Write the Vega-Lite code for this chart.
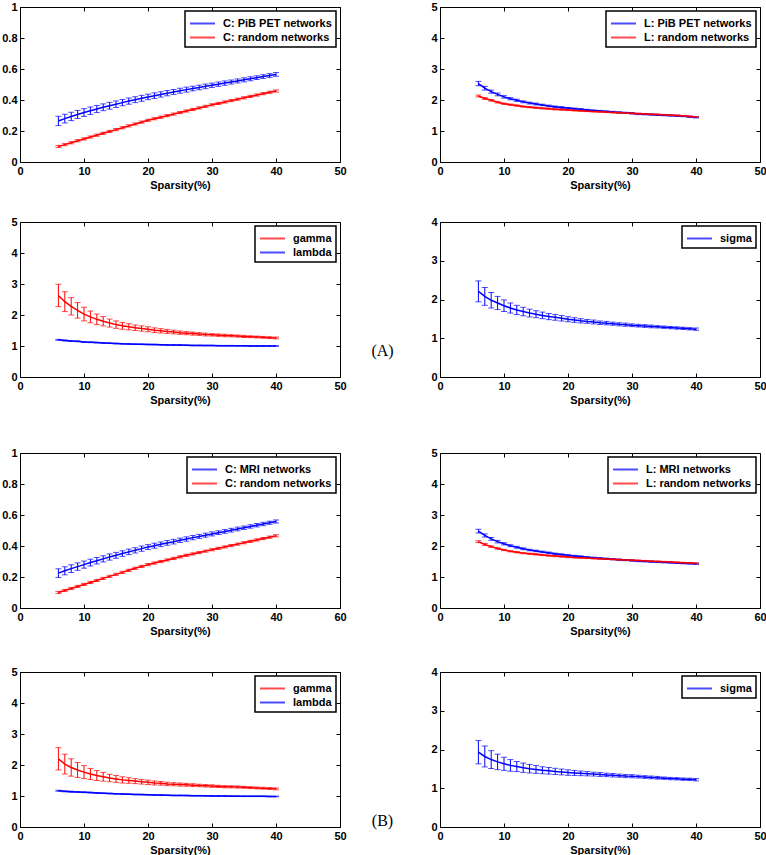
{
"$schema":"https://vega.github.io/schema/vega-lite/v6.json",
"background":"white",
"padding":{"left":1,"top":0,"right":0,"bottom":0},
"datasets":{
"p1":[
{"x":6,"s":"B","m":0.265,"e":0.03},{"x":7,"s":"B","m":0.28,"e":0.028},{"x":8,"s":"B","m":0.294,"e":0.027},{"x":9,"s":"B","m":0.307,"e":0.026},{"x":10,"s":"B","m":0.319,"e":0.025},{"x":11,"s":"B","m":0.331,"e":0.024},{"x":12,"s":"B","m":0.342,"e":0.023},{"x":13,"s":"B","m":0.353,"e":0.022},{"x":14,"s":"B","m":0.363,"e":0.022},{"x":15,"s":"B","m":0.373,"e":0.021},{"x":16,"s":"B","m":0.383,"e":0.02},{"x":17,"s":"B","m":0.393,"e":0.02},{"x":18,"s":"B","m":0.402,"e":0.019},{"x":19,"s":"B","m":0.411,"e":0.019},{"x":20,"s":"B","m":0.42,"e":0.018},{"x":21,"s":"B","m":0.428,"e":0.018},{"x":22,"s":"B","m":0.436,"e":0.017},{"x":23,"s":"B","m":0.444,"e":0.017},{"x":24,"s":"B","m":0.452,"e":0.016},{"x":25,"s":"B","m":0.46,"e":0.016},{"x":26,"s":"B","m":0.467,"e":0.016},{"x":27,"s":"B","m":0.474,"e":0.015},{"x":28,"s":"B","m":0.481,"e":0.015},{"x":29,"s":"B","m":0.488,"e":0.015},{"x":30,"s":"B","m":0.495,"e":0.014},{"x":31,"s":"B","m":0.502,"e":0.014},{"x":32,"s":"B","m":0.509,"e":0.014},{"x":33,"s":"B","m":0.516,"e":0.013},{"x":34,"s":"B","m":0.523,"e":0.013},{"x":35,"s":"B","m":0.53,"e":0.013},{"x":36,"s":"B","m":0.537,"e":0.013},{"x":37,"s":"B","m":0.544,"e":0.012},{"x":38,"s":"B","m":0.551,"e":0.012},{"x":39,"s":"B","m":0.558,"e":0.012},{"x":40,"s":"B","m":0.565,"e":0.012},
{"x":6,"s":"R","m":0.1,"e":0.007},{"x":7,"s":"R","m":0.112,"e":0.007},{"x":8,"s":"R","m":0.124,"e":0.007},{"x":9,"s":"R","m":0.137,"e":0.007},{"x":10,"s":"R","m":0.149,"e":0.007},{"x":11,"s":"R","m":0.161,"e":0.007},{"x":12,"s":"R","m":0.173,"e":0.007},{"x":13,"s":"R","m":0.185,"e":0.007},{"x":14,"s":"R","m":0.197,"e":0.007},{"x":15,"s":"R","m":0.209,"e":0.007},{"x":16,"s":"R","m":0.221,"e":0.007},{"x":17,"s":"R","m":0.233,"e":0.007},{"x":18,"s":"R","m":0.245,"e":0.007},{"x":19,"s":"R","m":0.257,"e":0.007},{"x":20,"s":"R","m":0.269,"e":0.007},{"x":21,"s":"R","m":0.279,"e":0.007},{"x":22,"s":"R","m":0.289,"e":0.007},{"x":23,"s":"R","m":0.299,"e":0.007},{"x":24,"s":"R","m":0.309,"e":0.007},{"x":25,"s":"R","m":0.319,"e":0.007},{"x":26,"s":"R","m":0.329,"e":0.007},{"x":27,"s":"R","m":0.339,"e":0.007},{"x":28,"s":"R","m":0.349,"e":0.007},{"x":29,"s":"R","m":0.359,"e":0.007},{"x":30,"s":"R","m":0.369,"e":0.007},{"x":31,"s":"R","m":0.378,"e":0.007},{"x":32,"s":"R","m":0.387,"e":0.007},{"x":33,"s":"R","m":0.396,"e":0.007},{"x":34,"s":"R","m":0.405,"e":0.007},{"x":35,"s":"R","m":0.414,"e":0.007},{"x":36,"s":"R","m":0.423,"e":0.007},{"x":37,"s":"R","m":0.432,"e":0.007},{"x":38,"s":"R","m":0.441,"e":0.007},{"x":39,"s":"R","m":0.45,"e":0.007},{"x":40,"s":"R","m":0.458,"e":0.007}
],
"p2":[
{"x":6,"s":"B","m":2.53,"e":0.07},{"x":7,"s":"B","m":2.38,"e":0.06},{"x":8,"s":"B","m":2.27,"e":0.05},{"x":9,"s":"B","m":2.18,"e":0.045},{"x":10,"s":"B","m":2.1,"e":0.04},{"x":11,"s":"B","m":2.04,"e":0.035},{"x":12,"s":"B","m":1.99,"e":0.035},{"x":13,"s":"B","m":1.94,"e":0.03},{"x":14,"s":"B","m":1.9,"e":0.03},{"x":15,"s":"B","m":1.87,"e":0.03},{"x":16,"s":"B","m":1.84,"e":0.025},{"x":17,"s":"B","m":1.81,"e":0.025},{"x":18,"s":"B","m":1.78,"e":0.025},{"x":19,"s":"B","m":1.76,"e":0.025},{"x":20,"s":"B","m":1.74,"e":0.02},{"x":21,"s":"B","m":1.72,"e":0.02},{"x":22,"s":"B","m":1.7,"e":0.02},{"x":23,"s":"B","m":1.68,"e":0.02},{"x":24,"s":"B","m":1.66,"e":0.02},{"x":25,"s":"B","m":1.645,"e":0.02},{"x":26,"s":"B","m":1.63,"e":0.02},{"x":27,"s":"B","m":1.615,"e":0.02},{"x":28,"s":"B","m":1.6,"e":0.02},{"x":29,"s":"B","m":1.585,"e":0.02},{"x":30,"s":"B","m":1.57,"e":0.02},{"x":31,"s":"B","m":1.55,"e":0.02},{"x":32,"s":"B","m":1.54,"e":0.02},{"x":33,"s":"B","m":1.53,"e":0.02},{"x":34,"s":"B","m":1.52,"e":0.02},{"x":35,"s":"B","m":1.51,"e":0.02},{"x":36,"s":"B","m":1.5,"e":0.02},{"x":37,"s":"B","m":1.49,"e":0.02},{"x":38,"s":"B","m":1.48,"e":0.02},{"x":39,"s":"B","m":1.46,"e":0.02},{"x":40,"s":"B","m":1.44,"e":0.02},
{"x":6,"s":"R","m":2.13,"e":0.03},{"x":7,"s":"R","m":2.05,"e":0.03},{"x":8,"s":"R","m":1.99,"e":0.025},{"x":9,"s":"R","m":1.93,"e":0.025},{"x":10,"s":"R","m":1.88,"e":0.02},{"x":11,"s":"R","m":1.85,"e":0.02},{"x":12,"s":"R","m":1.82,"e":0.02},{"x":13,"s":"R","m":1.79,"e":0.02},{"x":14,"s":"R","m":1.77,"e":0.02},{"x":15,"s":"R","m":1.75,"e":0.02},{"x":16,"s":"R","m":1.73,"e":0.02},{"x":17,"s":"R","m":1.72,"e":0.02},{"x":18,"s":"R","m":1.7,"e":0.02},{"x":19,"s":"R","m":1.69,"e":0.02},{"x":20,"s":"R","m":1.68,"e":0.02},{"x":21,"s":"R","m":1.665,"e":0.015},{"x":22,"s":"R","m":1.65,"e":0.015},{"x":23,"s":"R","m":1.64,"e":0.015},{"x":24,"s":"R","m":1.63,"e":0.015},{"x":25,"s":"R","m":1.62,"e":0.015},{"x":26,"s":"R","m":1.61,"e":0.015},{"x":27,"s":"R","m":1.6,"e":0.015},{"x":28,"s":"R","m":1.59,"e":0.015},{"x":29,"s":"R","m":1.58,"e":0.015},{"x":30,"s":"R","m":1.57,"e":0.015},{"x":31,"s":"R","m":1.56,"e":0.015},{"x":32,"s":"R","m":1.55,"e":0.015},{"x":33,"s":"R","m":1.54,"e":0.015},{"x":34,"s":"R","m":1.53,"e":0.015},{"x":35,"s":"R","m":1.52,"e":0.015},{"x":36,"s":"R","m":1.51,"e":0.015},{"x":37,"s":"R","m":1.5,"e":0.015},{"x":38,"s":"R","m":1.49,"e":0.015},{"x":39,"s":"R","m":1.47,"e":0.015},{"x":40,"s":"R","m":1.45,"e":0.015}
],
"p3":[
{"x":6,"s":"G","m":2.63,"e":0.36},{"x":7,"s":"G","m":2.43,"e":0.32},{"x":8,"s":"G","m":2.28,"e":0.28},{"x":9,"s":"G","m":2.15,"e":0.25},{"x":10,"s":"G","m":2.03,"e":0.22},{"x":11,"s":"G","m":1.94,"e":0.19},{"x":12,"s":"G","m":1.86,"e":0.17},{"x":13,"s":"G","m":1.8,"e":0.15},{"x":14,"s":"G","m":1.74,"e":0.13},{"x":15,"s":"G","m":1.69,"e":0.12},{"x":16,"s":"G","m":1.65,"e":0.11},{"x":17,"s":"G","m":1.62,"e":0.1},{"x":18,"s":"G","m":1.59,"e":0.09},{"x":19,"s":"G","m":1.565,"e":0.085},{"x":20,"s":"G","m":1.54,"e":0.08},{"x":21,"s":"G","m":1.51,"e":0.075},{"x":22,"s":"G","m":1.49,"e":0.07},{"x":23,"s":"G","m":1.47,"e":0.065},{"x":24,"s":"G","m":1.45,"e":0.06},{"x":25,"s":"G","m":1.43,"e":0.055},{"x":26,"s":"G","m":1.415,"e":0.05},{"x":27,"s":"G","m":1.4,"e":0.05},{"x":28,"s":"G","m":1.385,"e":0.045},{"x":29,"s":"G","m":1.37,"e":0.045},{"x":30,"s":"G","m":1.36,"e":0.04},{"x":31,"s":"G","m":1.35,"e":0.04},{"x":32,"s":"G","m":1.34,"e":0.04},{"x":33,"s":"G","m":1.33,"e":0.035},{"x":34,"s":"G","m":1.32,"e":0.035},{"x":35,"s":"G","m":1.31,"e":0.035},{"x":36,"s":"G","m":1.3,"e":0.03},{"x":37,"s":"G","m":1.29,"e":0.03},{"x":38,"s":"G","m":1.28,"e":0.03},{"x":39,"s":"G","m":1.27,"e":0.03},{"x":40,"s":"G","m":1.26,"e":0.03},
{"x":6,"s":"L","m":1.2,"e":0.015},{"x":7,"s":"L","m":1.18,"e":0.015},{"x":8,"s":"L","m":1.16,"e":0.015},{"x":9,"s":"L","m":1.15,"e":0.012},{"x":10,"s":"L","m":1.13,"e":0.012},{"x":11,"s":"L","m":1.12,"e":0.012},{"x":12,"s":"L","m":1.11,"e":0.01},{"x":13,"s":"L","m":1.1,"e":0.01},{"x":14,"s":"L","m":1.09,"e":0.01},{"x":15,"s":"L","m":1.08,"e":0.01},{"x":16,"s":"L","m":1.07,"e":0.01},{"x":17,"s":"L","m":1.065,"e":0.01},{"x":18,"s":"L","m":1.06,"e":0.01},{"x":19,"s":"L","m":1.055,"e":0.01},{"x":20,"s":"L","m":1.05,"e":0.01},{"x":21,"s":"L","m":1.045,"e":0.01},{"x":22,"s":"L","m":1.04,"e":0.01},{"x":23,"s":"L","m":1.035,"e":0.01},{"x":24,"s":"L","m":1.03,"e":0.01},{"x":25,"s":"L","m":1.03,"e":0.01},{"x":26,"s":"L","m":1.025,"e":0.01},{"x":27,"s":"L","m":1.02,"e":0.01},{"x":28,"s":"L","m":1.02,"e":0.01},{"x":29,"s":"L","m":1.015,"e":0.01},{"x":30,"s":"L","m":1.015,"e":0.01},{"x":31,"s":"L","m":1.01,"e":0.01},{"x":32,"s":"L","m":1.01,"e":0.01},{"x":33,"s":"L","m":1.01,"e":0.01},{"x":34,"s":"L","m":1.005,"e":0.01},{"x":35,"s":"L","m":1.005,"e":0.01},{"x":36,"s":"L","m":1.0,"e":0.01},{"x":37,"s":"L","m":1.0,"e":0.01},{"x":38,"s":"L","m":1.0,"e":0.01},{"x":39,"s":"L","m":1.0,"e":0.01},{"x":40,"s":"L","m":1.0,"e":0.01}
],
"p4":[
{"x":6,"s":"S","m":2.21,"e":0.27},{"x":7,"s":"S","m":2.08,"e":0.23},{"x":8,"s":"S","m":1.98,"e":0.2},{"x":9,"s":"S","m":1.91,"e":0.17},{"x":10,"s":"S","m":1.84,"e":0.15},{"x":11,"s":"S","m":1.78,"e":0.13},{"x":12,"s":"S","m":1.73,"e":0.12},{"x":13,"s":"S","m":1.69,"e":0.11},{"x":14,"s":"S","m":1.65,"e":0.1},{"x":15,"s":"S","m":1.62,"e":0.09},{"x":16,"s":"S","m":1.59,"e":0.085},{"x":17,"s":"S","m":1.56,"e":0.08},{"x":18,"s":"S","m":1.54,"e":0.075},{"x":19,"s":"S","m":1.515,"e":0.07},{"x":20,"s":"S","m":1.49,"e":0.065},{"x":21,"s":"S","m":1.47,"e":0.06},{"x":22,"s":"S","m":1.45,"e":0.055},{"x":23,"s":"S","m":1.435,"e":0.05},{"x":24,"s":"S","m":1.42,"e":0.05},{"x":25,"s":"S","m":1.4,"e":0.045},{"x":26,"s":"S","m":1.39,"e":0.045},{"x":27,"s":"S","m":1.375,"e":0.04},{"x":28,"s":"S","m":1.36,"e":0.04},{"x":29,"s":"S","m":1.35,"e":0.04},{"x":30,"s":"S","m":1.335,"e":0.035},{"x":31,"s":"S","m":1.325,"e":0.035},{"x":32,"s":"S","m":1.315,"e":0.035},{"x":33,"s":"S","m":1.305,"e":0.035},{"x":34,"s":"S","m":1.295,"e":0.03},{"x":35,"s":"S","m":1.285,"e":0.03},{"x":36,"s":"S","m":1.275,"e":0.03},{"x":37,"s":"S","m":1.265,"e":0.03},{"x":38,"s":"S","m":1.255,"e":0.03},{"x":39,"s":"S","m":1.245,"e":0.03},{"x":40,"s":"S","m":1.235,"e":0.03}
],
"p5":[
{"x":6,"s":"B","m":0.225,"e":0.028},{"x":7,"s":"B","m":0.24,"e":0.026},{"x":8,"s":"B","m":0.254,"e":0.025},{"x":9,"s":"B","m":0.267,"e":0.024},{"x":10,"s":"B","m":0.28,"e":0.023},{"x":11,"s":"B","m":0.293,"e":0.022},{"x":12,"s":"B","m":0.305,"e":0.021},{"x":13,"s":"B","m":0.317,"e":0.02},{"x":14,"s":"B","m":0.329,"e":0.02},{"x":15,"s":"B","m":0.34,"e":0.019},{"x":16,"s":"B","m":0.351,"e":0.018},{"x":17,"s":"B","m":0.362,"e":0.018},{"x":18,"s":"B","m":0.372,"e":0.017},{"x":19,"s":"B","m":0.383,"e":0.017},{"x":20,"s":"B","m":0.393,"e":0.016},{"x":21,"s":"B","m":0.402,"e":0.016},{"x":22,"s":"B","m":0.411,"e":0.015},{"x":23,"s":"B","m":0.42,"e":0.015},{"x":24,"s":"B","m":0.428,"e":0.015},{"x":25,"s":"B","m":0.437,"e":0.014},{"x":26,"s":"B","m":0.445,"e":0.014},{"x":27,"s":"B","m":0.454,"e":0.014},{"x":28,"s":"B","m":0.462,"e":0.013},{"x":29,"s":"B","m":0.47,"e":0.013},{"x":30,"s":"B","m":0.478,"e":0.013},{"x":31,"s":"B","m":0.486,"e":0.012},{"x":32,"s":"B","m":0.494,"e":0.012},{"x":33,"s":"B","m":0.502,"e":0.012},{"x":34,"s":"B","m":0.51,"e":0.012},{"x":35,"s":"B","m":0.518,"e":0.011},{"x":36,"s":"B","m":0.526,"e":0.011},{"x":37,"s":"B","m":0.534,"e":0.011},{"x":38,"s":"B","m":0.542,"e":0.011},{"x":39,"s":"B","m":0.55,"e":0.01},{"x":40,"s":"B","m":0.558,"e":0.01},
{"x":6,"s":"R","m":0.1,"e":0.007},{"x":7,"s":"R","m":0.113,"e":0.007},{"x":8,"s":"R","m":0.126,"e":0.007},{"x":9,"s":"R","m":0.139,"e":0.007},{"x":10,"s":"R","m":0.152,"e":0.007},{"x":11,"s":"R","m":0.165,"e":0.007},{"x":12,"s":"R","m":0.178,"e":0.007},{"x":13,"s":"R","m":0.191,"e":0.007},{"x":14,"s":"R","m":0.204,"e":0.007},{"x":15,"s":"R","m":0.217,"e":0.007},{"x":16,"s":"R","m":0.23,"e":0.007},{"x":17,"s":"R","m":0.243,"e":0.007},{"x":18,"s":"R","m":0.256,"e":0.007},{"x":19,"s":"R","m":0.268,"e":0.007},{"x":20,"s":"R","m":0.28,"e":0.007},{"x":21,"s":"R","m":0.29,"e":0.007},{"x":22,"s":"R","m":0.3,"e":0.007},{"x":23,"s":"R","m":0.31,"e":0.007},{"x":24,"s":"R","m":0.32,"e":0.007},{"x":25,"s":"R","m":0.33,"e":0.007},{"x":26,"s":"R","m":0.34,"e":0.007},{"x":27,"s":"R","m":0.349,"e":0.007},{"x":28,"s":"R","m":0.358,"e":0.007},{"x":29,"s":"R","m":0.367,"e":0.007},{"x":30,"s":"R","m":0.376,"e":0.007},{"x":31,"s":"R","m":0.385,"e":0.007},{"x":32,"s":"R","m":0.394,"e":0.007},{"x":33,"s":"R","m":0.403,"e":0.007},{"x":34,"s":"R","m":0.412,"e":0.007},{"x":35,"s":"R","m":0.421,"e":0.007},{"x":36,"s":"R","m":0.43,"e":0.007},{"x":37,"s":"R","m":0.439,"e":0.007},{"x":38,"s":"R","m":0.448,"e":0.007},{"x":39,"s":"R","m":0.457,"e":0.007},{"x":40,"s":"R","m":0.466,"e":0.007}
],
"p6":[
{"x":6,"s":"B","m":2.48,"e":0.06},{"x":7,"s":"B","m":2.34,"e":0.05},{"x":8,"s":"B","m":2.23,"e":0.045},{"x":9,"s":"B","m":2.14,"e":0.04},{"x":10,"s":"B","m":2.07,"e":0.035},{"x":11,"s":"B","m":2.01,"e":0.03},{"x":12,"s":"B","m":1.96,"e":0.03},{"x":13,"s":"B","m":1.91,"e":0.03},{"x":14,"s":"B","m":1.87,"e":0.025},{"x":15,"s":"B","m":1.84,"e":0.025},{"x":16,"s":"B","m":1.81,"e":0.025},{"x":17,"s":"B","m":1.78,"e":0.025},{"x":18,"s":"B","m":1.75,"e":0.02},{"x":19,"s":"B","m":1.725,"e":0.02},{"x":20,"s":"B","m":1.7,"e":0.02},{"x":21,"s":"B","m":1.68,"e":0.02},{"x":22,"s":"B","m":1.66,"e":0.02},{"x":23,"s":"B","m":1.64,"e":0.02},{"x":24,"s":"B","m":1.62,"e":0.02},{"x":25,"s":"B","m":1.605,"e":0.02},{"x":26,"s":"B","m":1.59,"e":0.02},{"x":27,"s":"B","m":1.575,"e":0.02},{"x":28,"s":"B","m":1.56,"e":0.02},{"x":29,"s":"B","m":1.545,"e":0.02},{"x":30,"s":"B","m":1.53,"e":0.02},{"x":31,"s":"B","m":1.515,"e":0.02},{"x":32,"s":"B","m":1.505,"e":0.02},{"x":33,"s":"B","m":1.495,"e":0.02},{"x":34,"s":"B","m":1.485,"e":0.02},{"x":35,"s":"B","m":1.475,"e":0.02},{"x":36,"s":"B","m":1.465,"e":0.02},{"x":37,"s":"B","m":1.455,"e":0.02},{"x":38,"s":"B","m":1.445,"e":0.02},{"x":39,"s":"B","m":1.435,"e":0.02},{"x":40,"s":"B","m":1.425,"e":0.02},
{"x":6,"s":"R","m":2.14,"e":0.03},{"x":7,"s":"R","m":2.05,"e":0.03},{"x":8,"s":"R","m":1.98,"e":0.025},{"x":9,"s":"R","m":1.92,"e":0.025},{"x":10,"s":"R","m":1.87,"e":0.02},{"x":11,"s":"R","m":1.83,"e":0.02},{"x":12,"s":"R","m":1.8,"e":0.02},{"x":13,"s":"R","m":1.77,"e":0.02},{"x":14,"s":"R","m":1.75,"e":0.02},{"x":15,"s":"R","m":1.73,"e":0.02},{"x":16,"s":"R","m":1.71,"e":0.02},{"x":17,"s":"R","m":1.69,"e":0.02},{"x":18,"s":"R","m":1.675,"e":0.02},{"x":19,"s":"R","m":1.66,"e":0.02},{"x":20,"s":"R","m":1.645,"e":0.02},{"x":21,"s":"R","m":1.63,"e":0.015},{"x":22,"s":"R","m":1.62,"e":0.015},{"x":23,"s":"R","m":1.61,"e":0.015},{"x":24,"s":"R","m":1.6,"e":0.015},{"x":25,"s":"R","m":1.59,"e":0.015},{"x":26,"s":"R","m":1.58,"e":0.015},{"x":27,"s":"R","m":1.57,"e":0.015},{"x":28,"s":"R","m":1.56,"e":0.015},{"x":29,"s":"R","m":1.55,"e":0.015},{"x":30,"s":"R","m":1.54,"e":0.015},{"x":31,"s":"R","m":1.53,"e":0.015},{"x":32,"s":"R","m":1.52,"e":0.015},{"x":33,"s":"R","m":1.51,"e":0.015},{"x":34,"s":"R","m":1.5,"e":0.015},{"x":35,"s":"R","m":1.49,"e":0.015},{"x":36,"s":"R","m":1.48,"e":0.015},{"x":37,"s":"R","m":1.47,"e":0.015},{"x":38,"s":"R","m":1.46,"e":0.015},{"x":39,"s":"R","m":1.45,"e":0.015},{"x":40,"s":"R","m":1.44,"e":0.015}
],
"p7":[
{"x":6,"s":"G","m":2.2,"e":0.36},{"x":7,"s":"G","m":2.03,"e":0.32},{"x":8,"s":"G","m":1.92,"e":0.28},{"x":9,"s":"G","m":1.84,"e":0.24},{"x":10,"s":"G","m":1.77,"e":0.21},{"x":11,"s":"G","m":1.71,"e":0.18},{"x":12,"s":"G","m":1.66,"e":0.16},{"x":13,"s":"G","m":1.62,"e":0.14},{"x":14,"s":"G","m":1.58,"e":0.12},{"x":15,"s":"G","m":1.55,"e":0.11},{"x":16,"s":"G","m":1.52,"e":0.1},{"x":17,"s":"G","m":1.5,"e":0.09},{"x":18,"s":"G","m":1.48,"e":0.08},{"x":19,"s":"G","m":1.46,"e":0.075},{"x":20,"s":"G","m":1.44,"e":0.07},{"x":21,"s":"G","m":1.42,"e":0.065},{"x":22,"s":"G","m":1.41,"e":0.06},{"x":23,"s":"G","m":1.39,"e":0.055},{"x":24,"s":"G","m":1.38,"e":0.05},{"x":25,"s":"G","m":1.37,"e":0.05},{"x":26,"s":"G","m":1.36,"e":0.045},{"x":27,"s":"G","m":1.35,"e":0.045},{"x":28,"s":"G","m":1.34,"e":0.04},{"x":29,"s":"G","m":1.33,"e":0.04},{"x":30,"s":"G","m":1.32,"e":0.04},{"x":31,"s":"G","m":1.31,"e":0.035},{"x":32,"s":"G","m":1.3,"e":0.035},{"x":33,"s":"G","m":1.295,"e":0.035},{"x":34,"s":"G","m":1.29,"e":0.035},{"x":35,"s":"G","m":1.28,"e":0.03},{"x":36,"s":"G","m":1.27,"e":0.03},{"x":37,"s":"G","m":1.26,"e":0.03},{"x":38,"s":"G","m":1.25,"e":0.03},{"x":39,"s":"G","m":1.24,"e":0.03},{"x":40,"s":"G","m":1.23,"e":0.03},
{"x":6,"s":"L","m":1.17,"e":0.015},{"x":7,"s":"L","m":1.15,"e":0.015},{"x":8,"s":"L","m":1.14,"e":0.015},{"x":9,"s":"L","m":1.13,"e":0.012},{"x":10,"s":"L","m":1.12,"e":0.012},{"x":11,"s":"L","m":1.11,"e":0.012},{"x":12,"s":"L","m":1.1,"e":0.01},{"x":13,"s":"L","m":1.09,"e":0.01},{"x":14,"s":"L","m":1.08,"e":0.01},{"x":15,"s":"L","m":1.07,"e":0.01},{"x":16,"s":"L","m":1.065,"e":0.01},{"x":17,"s":"L","m":1.06,"e":0.01},{"x":18,"s":"L","m":1.05,"e":0.01},{"x":19,"s":"L","m":1.045,"e":0.01},{"x":20,"s":"L","m":1.04,"e":0.01},{"x":21,"s":"L","m":1.035,"e":0.01},{"x":22,"s":"L","m":1.03,"e":0.01},{"x":23,"s":"L","m":1.025,"e":0.01},{"x":24,"s":"L","m":1.02,"e":0.01},{"x":25,"s":"L","m":1.02,"e":0.01},{"x":26,"s":"L","m":1.015,"e":0.01},{"x":27,"s":"L","m":1.01,"e":0.01},{"x":28,"s":"L","m":1.01,"e":0.01},{"x":29,"s":"L","m":1.005,"e":0.01},{"x":30,"s":"L","m":1.0,"e":0.01},{"x":31,"s":"L","m":1.0,"e":0.01},{"x":32,"s":"L","m":1.0,"e":0.01},{"x":33,"s":"L","m":0.995,"e":0.01},{"x":34,"s":"L","m":0.995,"e":0.01},{"x":35,"s":"L","m":0.99,"e":0.01},{"x":36,"s":"L","m":0.99,"e":0.01},{"x":37,"s":"L","m":0.99,"e":0.01},{"x":38,"s":"L","m":0.99,"e":0.01},{"x":39,"s":"L","m":0.985,"e":0.01},{"x":40,"s":"L","m":0.985,"e":0.01}
],
"p8":[
{"x":6,"s":"S","m":1.93,"e":0.3},{"x":7,"s":"S","m":1.82,"e":0.27},{"x":8,"s":"S","m":1.74,"e":0.23},{"x":9,"s":"S","m":1.68,"e":0.2},{"x":10,"s":"S","m":1.63,"e":0.17},{"x":11,"s":"S","m":1.59,"e":0.15},{"x":12,"s":"S","m":1.56,"e":0.13},{"x":13,"s":"S","m":1.53,"e":0.12},{"x":14,"s":"S","m":1.505,"e":0.11},{"x":15,"s":"S","m":1.485,"e":0.1},{"x":16,"s":"S","m":1.465,"e":0.09},{"x":17,"s":"S","m":1.45,"e":0.085},{"x":18,"s":"S","m":1.435,"e":0.08},{"x":19,"s":"S","m":1.42,"e":0.075},{"x":20,"s":"S","m":1.405,"e":0.07},{"x":21,"s":"S","m":1.395,"e":0.065},{"x":22,"s":"S","m":1.385,"e":0.06},{"x":23,"s":"S","m":1.375,"e":0.055},{"x":24,"s":"S","m":1.365,"e":0.05},{"x":25,"s":"S","m":1.355,"e":0.05},{"x":26,"s":"S","m":1.345,"e":0.045},{"x":27,"s":"S","m":1.335,"e":0.045},{"x":28,"s":"S","m":1.325,"e":0.04},{"x":29,"s":"S","m":1.315,"e":0.04},{"x":30,"s":"S","m":1.31,"e":0.04},{"x":31,"s":"S","m":1.3,"e":0.035},{"x":32,"s":"S","m":1.29,"e":0.035},{"x":33,"s":"S","m":1.28,"e":0.035},{"x":34,"s":"S","m":1.27,"e":0.035},{"x":35,"s":"S","m":1.26,"e":0.03},{"x":36,"s":"S","m":1.25,"e":0.03},{"x":37,"s":"S","m":1.245,"e":0.03},{"x":38,"s":"S","m":1.235,"e":0.03},{"x":39,"s":"S","m":1.23,"e":0.03},{"x":40,"s":"S","m":1.22,"e":0.03}
]
},
"vconcat":[
{"columns":2,"spacing":{"row":60,"column":100},"bounds":"flush",
 "resolve":{"scale":{"color":"independent","x":"independent","y":"independent"},"legend":{"color":"independent"}},
 "concat":[
 {"width":320,"height":155,"data":{"name":"p1"},
  "layer":[
   {"mark":{"type":"errorbar","ticks":{"size":6},"thickness":1},
    "encoding":{"x":{"field":"x","type":"quantitative","scale":{"domain":[0,50]},"axis":{"values":[0,10,20,30,40,50],"title":"Sparsity(%)"}},
     "y":{"field":"m","type":"quantitative","scale":{"domain":[0,1]},"axis":{"values":[0,0.2,0.4,0.6,0.8,1],"format":"~g","title":null}},
     "yError":{"field":"e"},
     "color":{"field":"s","type":"nominal","scale":{"domain":["B","R"],"range":["#0000ff","#ff0000"]},"legend":{"title":null,"symbolType":"M-1,0H2.333","labelExpr":"datum.label=='B'?'C: PiB PET networks':'C: random networks'"}}}},
   {"mark":{"type":"line","strokeWidth":1.5},
    "encoding":{"x":{"field":"x","type":"quantitative","scale":{"domain":[0,50]},"axis":{"orient":"top","values":[0,10,20,30,40,50],"labels":false,"title":null}},
     "y":{"field":"m","type":"quantitative","scale":{"domain":[0,1]},"axis":{"orient":"right","values":[0,0.2,0.4,0.6,0.8,1],"labels":false,"title":null}},
     "color":{"field":"s","type":"nominal","scale":{"domain":["B","R"],"range":["#0000ff","#ff0000"]},"legend":{"title":null,"symbolType":"M-1,0H2.333","labelExpr":"datum.label=='B'?'C: PiB PET networks':'C: random networks'"}}}}
  ],
  "resolve":{"axis":{"x":"independent","y":"independent"}}},
 {"width":320,"height":155,"data":{"name":"p2"},
  "layer":[
   {"mark":{"type":"errorbar","ticks":{"size":6},"thickness":1},
    "encoding":{"x":{"field":"x","type":"quantitative","scale":{"domain":[0,50]},"axis":{"values":[0,10,20,30,40,50],"title":"Sparsity(%)"}},
     "y":{"field":"m","type":"quantitative","scale":{"domain":[0,5]},"axis":{"values":[0,1,2,3,4,5],"title":null}},
     "yError":{"field":"e"},
     "color":{"field":"s","type":"nominal","scale":{"domain":["B","R"],"range":["#0000ff","#ff0000"]},"legend":{"title":null,"symbolType":"M-1,0H2.333","labelExpr":"datum.label=='B'?'L: PiB PET networks':'L: random networks'"}}}},
   {"mark":{"type":"line","strokeWidth":1.5},
    "encoding":{"x":{"field":"x","type":"quantitative","scale":{"domain":[0,50]},"axis":{"orient":"top","values":[0,10,20,30,40,50],"labels":false,"title":null}},
     "y":{"field":"m","type":"quantitative","scale":{"domain":[0,5]},"axis":{"orient":"right","values":[0,1,2,3,4,5],"labels":false,"title":null}},
     "color":{"field":"s","type":"nominal","scale":{"domain":["B","R"],"range":["#0000ff","#ff0000"]},"legend":{"title":null,"symbolType":"M-1,0H2.333","labelExpr":"datum.label=='B'?'L: PiB PET networks':'L: random networks'"}}}}
  ],
  "resolve":{"axis":{"x":"independent","y":"independent"}}},
 {"width":320,"height":155,"data":{"name":"p3"},
  "layer":[
   {"mark":{"type":"errorbar","ticks":{"size":6},"thickness":1},
    "encoding":{"x":{"field":"x","type":"quantitative","scale":{"domain":[0,50]},"axis":{"values":[0,10,20,30,40,50],"title":"Sparsity(%)"}},
     "y":{"field":"m","type":"quantitative","scale":{"domain":[0,5]},"axis":{"values":[0,1,2,3,4,5],"title":null}},
     "yError":{"field":"e"},
     "color":{"field":"s","type":"nominal","scale":{"domain":["G","L"],"range":["#ff0000","#0000ff"]},"legend":{"title":null,"symbolType":"M-1,0H2.333","labelExpr":"datum.label=='G'?'gamma':'lambda'"}}}},
   {"mark":{"type":"line","strokeWidth":1.5},
    "encoding":{"x":{"field":"x","type":"quantitative","scale":{"domain":[0,50]},"axis":{"orient":"top","values":[0,10,20,30,40,50],"labels":false,"title":null}},
     "y":{"field":"m","type":"quantitative","scale":{"domain":[0,5]},"axis":{"orient":"right","values":[0,1,2,3,4,5],"labels":false,"title":null}},
     "color":{"field":"s","type":"nominal","scale":{"domain":["G","L"],"range":["#ff0000","#0000ff"]},"legend":{"title":null,"symbolType":"M-1,0H2.333","labelExpr":"datum.label=='G'?'gamma':'lambda'"}}}}
  ],
  "resolve":{"axis":{"x":"independent","y":"independent"}}},
 {"width":320,"height":155,"data":{"name":"p4"},
  "layer":[
   {"mark":{"type":"errorbar","ticks":{"size":6},"thickness":1},
    "encoding":{"x":{"field":"x","type":"quantitative","scale":{"domain":[0,50]},"axis":{"values":[0,10,20,30,40,50],"title":"Sparsity(%)"}},
     "y":{"field":"m","type":"quantitative","scale":{"domain":[0,4]},"axis":{"values":[0,1,2,3,4],"title":"(A)","titleAngle":0,"titleX":-58,"titleY":128,"titleAlign":"center","titleBaseline":"middle","titleFont":"Liberation Serif","titleFontSize":16,"titleFontWeight":"normal"}},
     "yError":{"field":"e"},
     "color":{"field":"s","type":"nominal","scale":{"domain":["S"],"range":["#0000ff"]},"legend":{"title":null,"symbolType":"M-1,0H2.333","labelExpr":"'sigma'"}}}},
   {"mark":{"type":"line","strokeWidth":1.5},
    "encoding":{"x":{"field":"x","type":"quantitative","scale":{"domain":[0,50]},"axis":{"orient":"top","values":[0,10,20,30,40,50],"labels":false,"title":null}},
     "y":{"field":"m","type":"quantitative","scale":{"domain":[0,4]},"axis":{"orient":"right","values":[0,1,2,3,4],"labels":false,"title":null}},
     "color":{"field":"s","type":"nominal","scale":{"domain":["S"],"range":["#0000ff"]},"legend":{"title":null,"symbolType":"M-1,0H2.333","labelExpr":"'sigma'"}}}}
  ],
  "resolve":{"axis":{"x":"independent","y":"independent"}}}
 ]},
{"columns":2,"spacing":{"row":64,"column":100},"bounds":"flush",
 "resolve":{"scale":{"color":"independent","x":"independent","y":"independent"},"legend":{"color":"independent"}},
 "concat":[
 {"width":320,"height":155,"data":{"name":"p5"},
  "layer":[
   {"mark":{"type":"errorbar","ticks":{"size":6},"thickness":1},
    "encoding":{"x":{"field":"x","type":"quantitative","scale":{"domain":[0,50]},"axis":{"values":[0,10,20,30,40,50],"labelExpr":"datum.value==50?'60':datum.label","title":"Sparsity(%)"}},
     "y":{"field":"m","type":"quantitative","scale":{"domain":[0,1]},"axis":{"values":[0,0.2,0.4,0.6,0.8,1],"format":"~g","title":null}},
     "yError":{"field":"e"},
     "color":{"field":"s","type":"nominal","scale":{"domain":["B","R"],"range":["#0000ff","#ff0000"]},"legend":{"title":null,"symbolType":"M-1,0H2.333","labelExpr":"datum.label=='B'?'C: MRI networks':'C: random networks'"}}}},
   {"mark":{"type":"line","strokeWidth":1.5},
    "encoding":{"x":{"field":"x","type":"quantitative","scale":{"domain":[0,50]},"axis":{"orient":"top","values":[0,10,20,30,40,50],"labels":false,"title":null}},
     "y":{"field":"m","type":"quantitative","scale":{"domain":[0,1]},"axis":{"orient":"right","values":[0,0.2,0.4,0.6,0.8,1],"labels":false,"title":null}},
     "color":{"field":"s","type":"nominal","scale":{"domain":["B","R"],"range":["#0000ff","#ff0000"]},"legend":{"title":null,"symbolType":"M-1,0H2.333","labelExpr":"datum.label=='B'?'C: MRI networks':'C: random networks'"}}}}
  ],
  "resolve":{"axis":{"x":"independent","y":"independent"}}},
 {"width":320,"height":155,"data":{"name":"p6"},
  "layer":[
   {"mark":{"type":"errorbar","ticks":{"size":6},"thickness":1},
    "encoding":{"x":{"field":"x","type":"quantitative","scale":{"domain":[0,50]},"axis":{"values":[0,10,20,30,40,50],"labelExpr":"datum.value==50?'60':datum.label","title":"Sparsity(%)"}},
     "y":{"field":"m","type":"quantitative","scale":{"domain":[0,5]},"axis":{"values":[0,1,2,3,4,5],"title":null}},
     "yError":{"field":"e"},
     "color":{"field":"s","type":"nominal","scale":{"domain":["B","R"],"range":["#0000ff","#ff0000"]},"legend":{"title":null,"symbolType":"M-1,0H2.333","labelExpr":"datum.label=='B'?'L: MRI networks':'L: random networks'"}}}},
   {"mark":{"type":"line","strokeWidth":1.5},
    "encoding":{"x":{"field":"x","type":"quantitative","scale":{"domain":[0,50]},"axis":{"orient":"top","values":[0,10,20,30,40,50],"labels":false,"title":null}},
     "y":{"field":"m","type":"quantitative","scale":{"domain":[0,5]},"axis":{"orient":"right","values":[0,1,2,3,4,5],"labels":false,"title":null}},
     "color":{"field":"s","type":"nominal","scale":{"domain":["B","R"],"range":["#0000ff","#ff0000"]},"legend":{"title":null,"symbolType":"M-1,0H2.333","labelExpr":"datum.label=='B'?'L: MRI networks':'L: random networks'"}}}}
  ],
  "resolve":{"axis":{"x":"independent","y":"independent"}}},
 {"width":320,"height":155,"data":{"name":"p7"},
  "layer":[
   {"mark":{"type":"errorbar","ticks":{"size":6},"thickness":1},
    "encoding":{"x":{"field":"x","type":"quantitative","scale":{"domain":[0,50]},"axis":{"values":[0,10,20,30,40,50],"title":"Sparsity(%)"}},
     "y":{"field":"m","type":"quantitative","scale":{"domain":[0,5]},"axis":{"values":[0,1,2,3,4,5],"title":null}},
     "yError":{"field":"e"},
     "color":{"field":"s","type":"nominal","scale":{"domain":["G","L"],"range":["#ff0000","#0000ff"]},"legend":{"title":null,"symbolType":"M-1,0H2.333","labelExpr":"datum.label=='G'?'gamma':'lambda'"}}}},
   {"mark":{"type":"line","strokeWidth":1.5},
    "encoding":{"x":{"field":"x","type":"quantitative","scale":{"domain":[0,50]},"axis":{"orient":"top","values":[0,10,20,30,40,50],"labels":false,"title":null}},
     "y":{"field":"m","type":"quantitative","scale":{"domain":[0,5]},"axis":{"orient":"right","values":[0,1,2,3,4,5],"labels":false,"title":null}},
     "color":{"field":"s","type":"nominal","scale":{"domain":["G","L"],"range":["#ff0000","#0000ff"]},"legend":{"title":null,"symbolType":"M-1,0H2.333","labelExpr":"datum.label=='G'?'gamma':'lambda'"}}}}
  ],
  "resolve":{"axis":{"x":"independent","y":"independent"}}},
 {"width":320,"height":155,"data":{"name":"p8"},
  "layer":[
   {"mark":{"type":"errorbar","ticks":{"size":6},"thickness":1},
    "encoding":{"x":{"field":"x","type":"quantitative","scale":{"domain":[0,50]},"axis":{"values":[0,10,20,30,40,50],"title":"Sparsity(%)"}},
     "y":{"field":"m","type":"quantitative","scale":{"domain":[0,4]},"axis":{"values":[0,1,2,3,4],"title":"(B)","titleAngle":0,"titleX":-58,"titleY":148,"titleAlign":"center","titleBaseline":"middle","titleFont":"Liberation Serif","titleFontSize":16,"titleFontWeight":"normal"}},
     "yError":{"field":"e"},
     "color":{"field":"s","type":"nominal","scale":{"domain":["S"],"range":["#0000ff"]},"legend":{"title":null,"symbolType":"M-1,0H2.333","labelExpr":"'sigma'"}}}},
   {"mark":{"type":"line","strokeWidth":1.5},
    "encoding":{"x":{"field":"x","type":"quantitative","scale":{"domain":[0,50]},"axis":{"orient":"top","values":[0,10,20,30,40,50],"labels":false,"title":null}},
     "y":{"field":"m","type":"quantitative","scale":{"domain":[0,4]},"axis":{"orient":"right","values":[0,1,2,3,4],"labels":false,"title":null}},
     "color":{"field":"s","type":"nominal","scale":{"domain":["S"],"range":["#0000ff"]},"legend":{"title":null,"symbolType":"M-1,0H2.333","labelExpr":"'sigma'"}}}}
  ],
  "resolve":{"axis":{"x":"independent","y":"independent"}}}
 ]}
],
"spacing":40,
"resolve":{"scale":{"color":"independent","x":"independent","y":"independent"},"legend":{"color":"independent"}},
"config":{
 "view":{"stroke":"black","strokeWidth":1,"fill":"white"},
 "axis":{"grid":false,"domain":false,"tickColor":"black","tickSize":-4,"labelPadding":7,"labelColor":"black","labelFont":"Liberation Sans","labelFontSize":11,"labelFontWeight":"bold","labelFlush":false,"titleFont":"Liberation Sans","titleFontSize":11,"titleFontWeight":"bold","titleColor":"black","titlePadding":3},
 "legend":{"orient":"top-right","offset":4,"strokeColor":"black","strokeWidth":1.5,"fillColor":"white","padding":4,"rowPadding":0,"labelFont":"Liberation Sans","labelFontSize":11,"labelFontWeight":"bold","labelColor":"black","symbolSize":225,"symbolStrokeWidth":2,"labelOffset":17,"cornerRadius":0}
}
}
